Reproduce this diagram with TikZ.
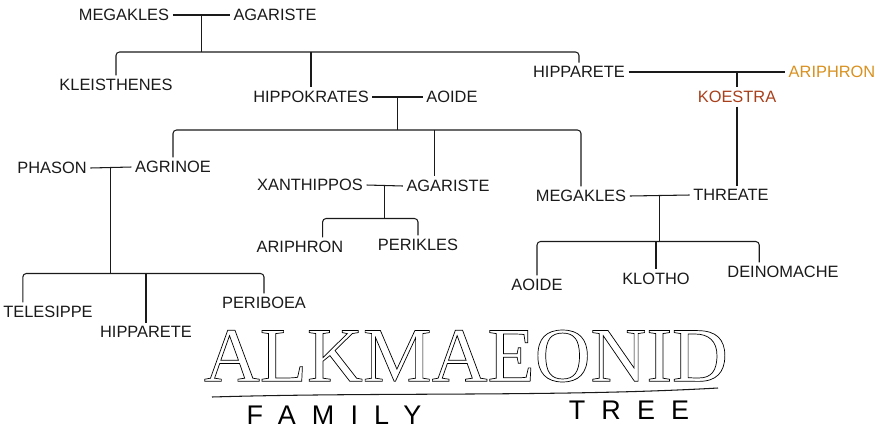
\documentclass[tikz,border=0pt]{standalone}
\usepackage{fontspec}
\setmainfont{Liberation Sans}
\newfontfamily\titlefont{Liberation Serif}
\newfontfamily\subfont[LetterSpace=60]{Liberation Sans}
\usetikzlibrary{calc}
\definecolor{inkblack}{HTML}{1A1A1A}
\definecolor{inkorange}{HTML}{D9901E}
\definecolor{inkred}{HTML}{A8401C}

\begin{document}
\begin{tikzpicture}[x=0.03cm,y=-0.03cm,
        person/.style={font=\fontsize{14}{14}\selectfont,
                       inner sep=3pt,text=inkblack},
        line/.style={draw=inkblack,line width=0.9pt},
        bar/.style={line,rounded corners=3pt}]
      \useasboundingbox (0,0) rectangle (883,438);
      %% ── First generation ─────────────────────────────────
      \node[person](mg) at(124,15){MEGAKLES};
      \node[person](ag) at(275,15){AGARISTE};
      %% ── Second generation ────────────────────────────────
      \node[person](kl) at(116,85){KLEISTHENES};
      \node[person](hk) at(311,97){HIPPOKRATES};
      \node[person](ao) at(452,97){AOIDE};
      \node[person](ht) at(579,72){HIPPARETE};
      \node[person,text=inkorange](ar) at(832,72){ARIPHRON};
      \node[person,text=inkred](ko) at(737,97){KOESTRA};
      %% ── Third generation ─────────────────────────────────
      \node[person](ph) at(52,168){PHASON};
      \node[person](an) at(173,167){AGRINOE};
      \node[person](xa) at(310,185){XANTHIPPOS};
      \node[person](ag2)at(448,186){AGARISTE};
      \node[person](mg2)at(581,196){MEGAKLES};
      \node[person](th) at(731,195){THREATE};
      %% ── Fourth generation ────────────────────────────────
      \node[person](te) at(48,312){TELESIPPE};
      \node[person](hp) at(146,332){HIPPARETE};
      \node[person](pb) at(264,303){PERIBOEA};
      \node[person](ap) at(300,247){ARIPHRON};
      \node[person](pe) at(418,245){PERIKLES};
      \node[person](ao2)at(537,285){AOIDE};
      \node[person](kt) at(656,279){KLOTHO};
      \node[person](de) at(783,272){DEINOMACHE};
      %% ── Megakles + Agariste ──────────────────────────────
      \coordinate (j1) at ($(mg.east)!0.5!(ag.west)$);
      \coordinate (b1) at ($(j1)+(0,37)$);
      \draw[line] (mg.east)--(ag.west);
      \draw[line] (j1)--(b1);
      \draw[bar]  (kl.north) |- (b1) -| (ht.north);
      \draw[line] (hk.north |- b1)--(hk.north);
      %% ── Hipparete + Ariphron ─────────────────────────────
      \draw[line] (ht.east)--(ar.west);
      \draw[line] (ko.north |- ht.east)--(ko.north);
      \draw[line] (ko.south)--(ko.south |- th.north);
      %% ── Hippokrates + Aoide ──────────────────────────────
      \coordinate (j2) at ($(hk.east)!0.5!(ao.west)$);
      \coordinate (b2) at ($(j2)+(0,33)$);
      \coordinate (d2) at ($(ag2.north west)!0.35!(ag2.north east)$);
      \draw[line] (hk.east)--(ao.west);
      \draw[line] (j2)--(b2);
      \draw[bar]  (an.north) |- (b2) -| (mg2.north);
      \draw[line] (d2 |- b2)--(d2);
      %% ── Phason + Agrinoe ─────────────────────────────────
      \coordinate (j3) at ($(ph.east)!0.5!(an.west)$);
      \coordinate (b3) at ($(j3)+(0,106)$);
      \coordinate (d3) at ($(te.north west)!0.24!(te.north east)$);
      \draw[line] (ph.east)--(an.west);
      \draw[line] (j3)--(b3);
      \draw[bar]  (d3) |- (b3) -| (pb.north);
      \draw[line] (hp.north |- b3)--(hp.north);
      %% ── Xanthippos + Agariste ────────────────────────────
      \coordinate (j4) at ($(xa.east)!0.5!(ag2.west)$);
      \coordinate (b4) at ($(j4)+(0,33)$);
      \coordinate (d4) at ($(ap.north west)!0.74!(ap.north east)$);
      \draw[line] (xa.east)--(ag2.west);
      \draw[line] (j4)--(b4);
      \draw[bar]  (d4) |- (b4) -| (pe.north);
      %% ── Megakles + Threate ───────────────────────────────
      \coordinate (j5) at ($(mg2.east)!0.5!(th.west)$);
      \coordinate (b5) at ($(j5)+(0,46)$);
      \coordinate (d5) at ($(de.north west)!0.3!(de.north east)$);
      \draw[line] (mg2.east)--(th.west);
      \draw[line] (j5)--(b5);
      \draw[bar]  (ao2.north) |- (b5) -| (d5);
      \draw[line] (kt.north |- b5)--(kt.north);
      %% ── Title ────────────────────────────────────────────
      \node[font=\titlefont\fontsize{66}{66}\selectfont,inner sep=0pt](ti)
            at(466,356){\special{pdf:literal direct 1 Tr 0.6 w}ALKMAEONID\special{pdf:literal direct 0 Tr}};
      \draw[line] (212,397) .. controls (380,392) and (560,397) .. (718,388);
      \node[font=\subfont\fontsize{23}{23}\selectfont](fa) at(334,415){FAMILY};
      \node[font=\subfont\fontsize{23}{23}\selectfont](tr) at(629,410){TREE};
    \end{tikzpicture}
\end{document}
